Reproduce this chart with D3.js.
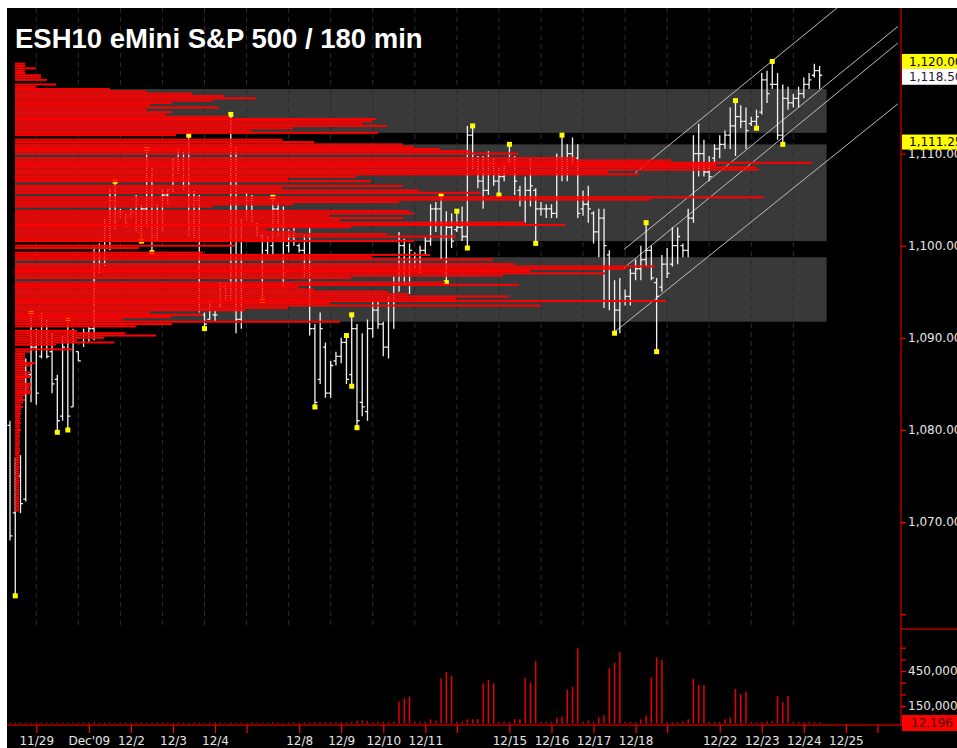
<!DOCTYPE html>
<html>
<head>
<meta charset="utf-8">
<script src="https://cdn.jsdelivr.net/npm/d3@7"></script>
<style>
	html, body { margin: 0; padding: 0; background: #fff; }
	svg { display: block; }
	text { font-family: 'DejaVu Sans', Verdana, sans-serif; }
</style>
</head>
<body>
<div id="chart"></div>
<script>

/****************************************
 *
 * Data
 *
 ****************************************/

// OHLC, one entry per 180 min bar (8 bars a day)
const highs = [
	1081.0, 1077.0, 1077.25, 1087.75, 1092.75, 1091.0, 1092.75, 1092.0, 1090.5, 1086.0,
	1090.25, 1092.0, 1091.0, 1088.5, 1091.0, 1091.25, 1100.0, 1100.25, 1103.0, 1106.25,
	1107.0, 1104.0, 1103.5, 1104.0, 1105.5, 1104.5, 1110.5, 1108.5, 1104.5, 1106.25,
	1106.25, 1109.5, 1110.5, 1110.25, 1112.0, 1106.0, 1105.5, 1092.75, 1094.0, 1093.0,
	1096.0, 1096.0, 1114.25, 1110.75, 1103.0, 1105.75, 1105.5, 1102.5, 1101.25, 1101.0,
	1105.25, 1104.75, 1104.25, 1101.75, 1102.0, 1100.25, 1101.25, 1102.0, 1091.5, 1092.75,
	1089.5, 1087.5, 1088.5, 1090.0, 1090.25, 1092.5, 1091.5, 1090.5, 1092.0, 1094.0,
	1094.0, 1091.75, 1094.5, 1096.75, 1101.5, 1100.75, 1100.25, 1099.25, 1100.0, 1101.0,
	1104.5, 1104.75, 1105.5, 1103.75, 1103.5, 1103.75, 1104.25, 1113.0, 1113.0, 1109.75,
	1109.75, 1110.25, 1109.5, 1108.5, 1108.75, 1111.0, 1109.75, 1106.5, 1107.5, 1109.5,
	1106.25, 1104.75, 1104.5, 1104.5, 1110.0, 1112.0, 1111.0, 1111.75, 1111.0, 1106.0,
	1106.5, 1103.75, 1104.0, 1104.0, 1099.5, 1096.25, 1096.5, 1095.25, 1097.5, 1098.5,
	1100.0, 1102.5, 1100.0, 1096.5, 1099.0, 1099.75, 1102.0, 1102.0, 1100.25, 1104.0,
	1112.0, 1113.25, 1111.5, 1109.75, 1111.0, 1112.0, 1112.5, 1115.0, 1115.75, 1115.25,
	1115.0, 1114.0, 1114.75, 1118.75, 1119.0, 1120.0, 1118.75, 1117.5, 1117.25, 1116.5,
	1117.25, 1118.25, 1118.75, 1119.75, 1119.5
]

const lows = [
	1068.0, 1062.0, 1071.0, 1072.25, 1083.0, 1082.75, 1087.75, 1087.75, 1084.0, 1079.75,
	1081.0, 1080.0, 1082.5, 1087.5, 1089.0, 1089.5, 1089.75, 1097.0, 1097.75, 1099.5,
	1101.75, 1103.0, 1102.0, 1103.0, 1101.5, 1100.5, 1102.0, 1099.25, 1100.5, 1101.5,
	1104.5, 1105.75, 1107.75, 1106.0, 1101.0, 1100.75, 1092.75, 1091.0, 1092.0, 1091.75,
	1093.25, 1094.0, 1094.0, 1090.5, 1091.0, 1102.75, 1102.5, 1101.0, 1094.0, 1099.0,
	1099.0, 1101.0, 1095.5, 1099.25, 1100.0, 1099.25, 1096.5, 1090.25, 1082.5, 1085.0,
	1083.5, 1083.5, 1087.0, 1087.25, 1085.0, 1084.75, 1080.25, 1081.5, 1081.0, 1090.0,
	1091.0, 1088.0, 1087.75, 1091.0, 1095.0, 1095.75, 1094.75, 1097.5, 1097.0, 1099.0,
	1100.0, 1101.5, 1098.5, 1096.0, 1099.75, 1101.5, 1100.5, 1099.75, 1108.25, 1106.25,
	1104.0, 1105.5, 1106.5, 1105.5, 1107.0, 1109.0, 1105.5, 1104.25, 1102.5, 1104.25,
	1100.25, 1103.25, 1103.0, 1103.0, 1103.0, 1107.0, 1107.0, 1108.75, 1103.0, 1103.25,
	1102.5, 1100.25, 1098.75, 1093.25, 1093.0, 1090.5, 1090.5, 1093.5, 1093.5, 1096.25,
	1096.25, 1097.75, 1096.25, 1088.5, 1095.0, 1096.5, 1097.75, 1098.0, 1098.75, 1098.75,
	1102.5, 1107.5, 1107.5, 1107.0, 1109.0, 1109.5, 1110.5, 1110.5, 1109.75, 1112.75,
	1110.5, 1113.0, 1112.75, 1114.25, 1115.5, 1117.0, 1111.5, 1111.0, 1114.75, 1115.0,
	1115.0, 1116.0, 1117.0, 1118.25, 1117.0
]

const opens = [
	1080.5, 1071.0, 1075.0, 1072.5, 1086.0, 1089.0, 1088.0, 1091.5, 1088.5, 1085.5,
	1081.5, 1090.0, 1082.5, 1088.5, 1089.5, 1090.5, 1091.0, 1099.0, 1098.0, 1102.0,
	1105.0, 1103.5, 1103.0, 1103.0, 1103.5, 1102.0, 1104.0, 1108.0, 1101.0, 1103.0,
	1105.5, 1106.0, 1109.0, 1108.0, 1107.0, 1102.0, 1105.0, 1092.5, 1092.0, 1092.5,
	1093.5, 1095.5, 1094.5, 1110.0, 1092.0, 1103.0, 1105.0, 1102.5, 1101.0, 1099.5,
	1100.0, 1104.0, 1102.0, 1100.0, 1101.0, 1100.0, 1099.5, 1101.0, 1091.0, 1085.5,
	1089.0, 1084.0, 1087.5, 1088.0, 1089.5, 1086.0, 1091.0, 1083.0, 1082.0, 1091.0,
	1093.0, 1091.5, 1089.0, 1094.0, 1096.0, 1100.0, 1096.0, 1098.0, 1098.5, 1099.5,
	1100.5, 1104.0, 1104.0, 1101.0, 1102.0, 1101.75, 1102.0, 1101.0, 1112.0, 1108.0,
	1107.0, 1106.0, 1109.0, 1107.0, 1107.5, 1109.25, 1109.5, 1106.0, 1105.0, 1106.0,
	1106.0, 1104.0, 1104.0, 1104.0, 1103.5, 1109.5, 1108.0, 1110.0, 1109.5, 1104.0,
	1104.5, 1103.5, 1101.5, 1103.0, 1099.0, 1094.0, 1093.0, 1094.0, 1094.5, 1097.0,
	1097.5, 1098.5, 1099.5, 1096.0, 1095.5, 1098.0, 1098.0, 1100.0, 1100.0, 1099.5,
	1103.0, 1110.0, 1110.0, 1108.0, 1109.5, 1110.5, 1111.0, 1112.0, 1113.0, 1114.0,
	1113.5, 1113.25, 1113.5, 1114.5, 1118.0, 1117.5, 1117.5, 1112.0, 1116.0, 1115.5,
	1116.0, 1116.5, 1117.5, 1118.5, 1119.0
]

const closes = [
	1068.5, 1075.0, 1072.0, 1086.0, 1089.0, 1084.0, 1092.0, 1088.0, 1085.0, 1081.0,
	1089.0, 1081.5, 1089.5, 1087.5, 1090.5, 1091.0, 1099.0, 1098.0, 1102.0, 1105.0,
	1103.0, 1103.5, 1102.5, 1103.5, 1102.0, 1104.0, 1109.0, 1101.0, 1103.0, 1105.5,
	1106.0, 1109.0, 1108.0, 1106.5, 1102.0, 1105.0, 1093.0, 1091.5, 1093.5, 1092.5,
	1095.5, 1094.5, 1111.0, 1092.0, 1102.0, 1105.0, 1103.0, 1101.5, 1095.0, 1100.5,
	1104.0, 1102.0, 1097.0, 1101.0, 1100.5, 1099.5, 1100.5, 1091.0, 1083.0, 1091.0,
	1084.0, 1087.0, 1088.0, 1089.5, 1085.5, 1091.0, 1081.0, 1082.5, 1091.0, 1093.0,
	1091.5, 1089.0, 1094.0, 1096.0, 1100.0, 1096.0, 1099.5, 1098.5, 1099.5, 1100.5,
	1104.0, 1104.0, 1101.0, 1102.0, 1100.5, 1102.0, 1101.0, 1112.0, 1110.0, 1107.0,
	1106.0, 1109.0, 1107.0, 1107.5, 1108.0, 1110.0, 1107.0, 1105.0, 1106.0, 1106.5,
	1104.0, 1104.0, 1104.0, 1103.5, 1109.5, 1108.0, 1110.0, 1109.5, 1103.5, 1104.5,
	1104.0, 1101.5, 1103.0, 1100.0, 1094.0, 1093.0, 1094.0, 1094.5, 1097.0, 1097.5,
	1098.5, 1099.5, 1096.5, 1094.5, 1098.0, 1097.0, 1100.0, 1101.0, 1099.5, 1103.0,
	1110.0, 1110.0, 1108.0, 1107.5, 1110.5, 1111.0, 1112.0, 1113.0, 1114.0, 1113.5,
	1112.5, 1113.5, 1114.0, 1118.0, 1116.5, 1117.5, 1112.0, 1116.0, 1115.5, 1116.0,
	1116.5, 1117.5, 1118.0, 1119.0, 1118.5
]

// contracts per bar
const volumes = [
	9000, 8000, 10000, 9000, 8000, 9000, 10000, 8000, 9000, 8000,
	10000, 9000, 8000, 9000, 10000, 8000, 9000, 10000, 9000, 8000,
	9000, 10000, 8000, 9000, 9000, 10000, 8000, 9000, 10000, 9000,
	8000, 9000, 10000, 9000, 8000, 10000, 9000, 8000, 9000, 10000,
	9000, 8000, 10000, 9000, 9000, 8000, 10000, 9000, 8000, 9000,
	10000, 9000, 8000, 9000, 10000, 9000, 11000, 10000, 12000, 10000,
	11000, 12000, 10000, 12000, 11000, 14000, 24000, 25000, 23000, 12000,
	13000, 15000, 15000, 16000, 187000, 216000, 230000, 14000, 15000, 14000,
	36000, 24000, 387000, 444000, 410000, 15000, 14000, 36000, 36000, 36000,
	345000, 373000, 345000, 15000, 14000, 15000, 36000, 36000, 387000, 353000,
	533000, 15000, 14000, 15000, 50000, 58000, 287000, 315000, 645000, 15000,
	26000, 15000, 50000, 70000, 473000, 521000, 610000, 12000, 12000, 12000,
	36000, 67000, 396000, 567000, 544000, 12000, 12000, 12000, 20000, 36000,
	384000, 330000, 330000, 12000, 12000, 12000, 36000, 50000, 296000, 250000,
	273000, 12000, 12000, 12000, 20000, 20000, 236000, 182000, 236000, 12000,
	12000, 12000, 12000, 12000, 12196
]

// swing high / low flags
const markerIdx = [1, 4, 9, 11, 11, 20, 25, 26, 27, 34, 37, 42, 48, 50, 58, 64, 65, 65, 66, 82, 83, 85, 87, 88, 93, 95, 100, 105, 115, 121, 123, 138, 142, 145, 147]
const markerSide = ['L', 'H', 'L', 'H', 'L', 'H', 'L', 'H', 'L', 'H', 'L', 'H', 'L', 'H', 'L', 'H', 'H', 'L', 'L', 'H', 'L', 'H', 'L', 'H', 'L', 'H', 'L', 'H', 'L', 'H', 'L', 'H', 'L', 'H', 'L']

// volume at price, [price, relative size]
const profile = [
	[1119.75, 10], [1119.5, 10], [1119.25, 21], [1119.0, 10], [1118.75, 10], [1118.5, 26], [1118.25, 26], [1118.0, 32], [1117.5, 41], [1117.25, 21],
	[1117.0, 95], [1116.75, 131], [1116.5, 177], [1116.25, 209], [1116.0, 241], [1115.75, 198], [1115.5, 157], [1115.25, 135], [1115.0, 204], [1114.75, 131],
	[1114.5, 157], [1114.25, 151], [1114.0, 214], [1113.75, 361], [1113.5, 357], [1113.25, 347], [1113.0, 372], [1112.75, 278], [1112.5, 236], [1112.25, 363],
	[1112.0, 161], [1111.5, 267], [1111.25, 299], [1111.0, 388], [1110.75, 399], [1110.5, 425], [1110.25, 455], [1110.0, 503], [1109.5, 561], [1109.25, 656],
	[1109.0, 797], [1108.75, 701], [1108.5, 741], [1108.25, 744], [1108.0, 593], [1107.75, 624], [1107.5, 341], [1107.25, 273], [1107.0, 356], [1106.5, 388],
	[1106.25, 267], [1106.0, 404], [1105.75, 466], [1105.25, 749], [1105.0, 635], [1104.75, 384], [1104.5, 278], [1104.25, 198], [1103.75, 394], [1103.5, 399],
	[1103.25, 315], [1103.0, 388], [1102.75, 325], [1102.5, 510], [1102.25, 550], [1102.0, 336], [1101.75, 251], [1101.5, 280], [1101.25, 372], [1101.0, 441],
	[1100.75, 273], [1100.5, 399], [1100.0, 220], [1099.75, 124], [1099.25, 188], [1099.0, 415], [1098.75, 357], [1098.5, 478], [1098.0, 499], [1097.75, 640],
	[1097.5, 611], [1097.25, 515], [1097.0, 590], [1096.75, 488], [1096.5, 336], [1096.0, 430], [1095.75, 504], [1095.5, 283], [1095.25, 299], [1095.0, 373],
	[1094.75, 393], [1094.5, 494], [1094.25, 441], [1094.0, 651], [1093.75, 315], [1093.5, 526], [1093.25, 273], [1093.0, 230], [1092.75, 135], [1092.5, 188],
	[1092.25, 156], [1092.0, 108], [1091.75, 325], [1091.5, 157], [1091.25, 121], [1090.75, 62], [1090.5, 110], [1090.25, 141], [1090.0, 89], [1089.75, 62],
	[1089.5, 99], [1089.25, 41], [1088.75, 57], [1088.5, 15], [1088.25, 10], [1088.0, 10], [1087.75, 10], [1087.5, 10], [1087.25, 20], [1087.0, 16],
	[1086.75, 10], [1086.5, 10], [1086.25, 16], [1086.0, 13], [1085.75, 16], [1085.5, 10], [1085.25, 10], [1085.0, 16], [1084.75, 16], [1084.5, 14],
	[1084.25, 16], [1084.0, 16], [1083.75, 10], [1083.5, 8], [1083.25, 10], [1083.0, 8], [1082.75, 6], [1082.5, 8], [1082.25, 6], [1082.0, 6],
	[1081.75, 6], [1081.5, 5], [1081.25, 6], [1081.0, 5], [1080.75, 6], [1080.5, 5], [1080.25, 5], [1080.0, 6], [1079.75, 5], [1079.5, 5],
	[1079.25, 5], [1079.0, 4], [1078.75, 5], [1078.5, 5], [1078.25, 4], [1078.0, 5], [1077.75, 5], [1077.5, 4], [1077.25, 5], [1077.0, 5],
	[1076.75, 4], [1076.5, 5], [1076.25, 4], [1076.0, 5], [1075.75, 4], [1075.5, 4], [1075.25, 5], [1075.0, 4], [1074.75, 4], [1074.5, 5],
	[1074.25, 4], [1074.0, 4], [1073.75, 4], [1073.5, 4], [1073.25, 4], [1073.0, 4], [1072.75, 4], [1072.5, 4], [1072.25, 4], [1072.0, 4],
	[1071.75, 4], [1071.5, 4], [1071.25, 4]
]

// shaded price zones
const zoneTop = [1117.0, 1111.0, 1098.75]
const zoneBottom = [1112.25, 1100.5, 1091.75]

// regression channel lines (bar index / price at both ends)
const channelStartIdx = [118.9, 116.8, 116.8, 114.7]
const channelStartPrice = [1107.9, 1099.6, 1097.6, 1090.5]
const channelEndIdx = [168.9, 168.9, 168.9, 168.9]
const channelEndPrice = [1131.2, 1123.8, 1122.0, 1115.4]

// date axis
const tickIdx = [5, 15, 23, 31, 39, 45, 55, 63, 71, 79, 85, 95, 103, 111, 119, 125, 135, 143, 151, 159, 165]
const tickLabels = ['11/29', 'Dec\'09', '12/2', '12/3', '12/4', '', '12/8', '12/9', '12/10', '12/11', '', '12/15', '12/16', '12/17', '12/18', '', '12/22', '12/23', '12/24', '12/25', '']

const priceTicks = [1060, 1070, 1080, 1090, 1100, 1110, 1120]
const volumeTicks = [150000, 250000, 350000, 450000, 550000, 650000]
const volumeLabels = [150000, 450000]

// price flags on the right scale
const flagValues = [1120.00, 1118.50, 1111.25]
const flagFills = ['#ffff00', '#ffffff', '#ffff00']

const title = 'ESH10 eMini S&P 500 / 180 min'

/****************************************
 *
 * Chart
 *
 ****************************************/

let chartWidth = 957
	, chartHeight = 748
	, panelLeft = 7
	, panelTop = 8
	, axisX = 901
	, priceBottom = 629
	, xAxisY = 725
	, red = '#ff0000'
	, x = d3.scaleLinear()
		.domain([0, 154])
		.range([10, 819.6])
	, y = d3.scaleLinear()
		.domain([1058.4, 1125.8])
		.range([priceBottom, panelTop])
	, yVol = d3.scaleLinear()
		.domain([0, 650000])
		.range([723.5, 647.7])
	, profX = d3.scaleLinear()
		.domain([0, 800])
		.range([15, 815])

const svg = d3.select('#chart')
	.append('svg')
	  .attr('width', chartWidth)
	  .attr('height', chartHeight)

svg.append('rect')
	.attr('x', panelLeft).attr('y', panelTop)
	.attr('width', chartWidth - panelLeft).attr('height', chartHeight - panelTop)
	.attr('fill', '#000')

svg.append('clipPath')
	.attr('id', 'priceClip')
	.append('rect')
	  .attr('x', panelLeft).attr('y', panelTop)
	  .attr('width', axisX - panelLeft).attr('height', priceBottom - panelTop)

const price = svg.append('g')
	.attr('clip-path', 'url(#priceClip)')

// shaded zones
price.append('g')
	.selectAll('rect')
	.data(zoneTop)
	.join('rect')
	  .attr('x', profX(0))
	  .attr('width', x(154) + 7 - profX(0))
	  .attr('y', d => y(d))
	  .attr('height', (d, i) => y(zoneBottom[i]) - y(d))
	  .attr('fill', '#393939')

// dashed day grid
price.append('g')
	.selectAll('line')
	.data(d3.range(5, 150, 8))
	.join('line')
	  .attr('x1', d => x(d)).attr('x2', d => x(d))
	  .attr('y1', panelTop).attr('y2', priceBottom)
	  .attr('stroke', '#2b2b2b')
	  .attr('stroke-dasharray', '5,4')

// channel
price.append('g')
	.selectAll('line')
	.data(channelStartIdx)
	.join('line')
	  .attr('x1', d => x(d))
	  .attr('y1', (d, i) => y(channelStartPrice[i]))
	  .attr('x2', (d, i) => x(channelEndIdx[i]))
	  .attr('y2', (d, i) => y(channelEndPrice[i]))
	  .attr('stroke', '#bdbdbd')
	  .attr('stroke-width', 1)

// OHLC bars
price.append('g')
	.selectAll('path')
	.data(highs)
	.join('path')
	  .attr('d', (d, i) => {
		const bx = x(i)
		return 'M' + bx + ',' + y(d) + 'V' + y(lows[i])
			+ 'M' + (bx - 2.5) + ',' + y(opens[i]) + 'H' + bx
			+ 'M' + bx + ',' + y(closes[i]) + 'H' + (bx + 2.5)
	  })
	  .attr('fill', 'none')
	  .attr('stroke', '#f2f2f2')
	  .attr('stroke-width', 1.3)

// swing flags
price.append('g')
	.selectAll('rect')
	.data(markerIdx)
	.join('rect')
	  .attr('x', d => x(d) - 2.5)
	  .attr('y', (d, i) => y(markerSide[i] === 'H' ? highs[d] : lows[d]) - 2.5)
	  .attr('width', 5).attr('height', 5)
	  .attr('fill', '#ffff00')

// volume profile, drawn over the bars
price.append('g')
	.selectAll('rect')
	.data(profile)
	.join('rect')
	  .attr('x', profX(0))
	  .attr('y', d => y(d[0]) - 1)
	  .attr('width', d => profX(d[1]) - profX(0))
	  .attr('height', 2)
	  .attr('fill', red)

// volume bars
svg.append('g')
	.selectAll('line')
	.data(volumes)
	.join('line')
	  .attr('x1', (d, i) => x(i)).attr('x2', (d, i) => x(i))
	  .attr('y1', yVol(0)).attr('y2', d => yVol(d))
	  .attr('stroke', '#e60000')
	  .attr('stroke-width', 1.5)

/****************************************
 *
 * Axes
 *
 ****************************************/

function styleAxis(g) {
	g.select('.domain').remove()
	g.selectAll('.tick line').attr('stroke', red).attr('stroke-width', 1.2)
	g.selectAll('.tick text')
		.attr('fill', '#e6e6e6')
		.style('font-family', '\'DejaVu Sans\', Verdana, sans-serif')
		.style('font-size', '12px')
}

svg.append('g')
	.attr('transform', 'translate(' + axisX + ',0)')
	.call(d3.axisRight(y)
		.tickValues(priceTicks)
		.tickSize(5)
		.tickPadding(2)
		.tickFormat(d => d === 1060 ? '' : d3.format(',.2f')(d)))
	.call(styleAxis)

svg.append('g')
	.attr('transform', 'translate(' + axisX + ',0)')
	.call(d3.axisRight(yVol)
		.tickValues(volumeTicks)
		.tickSize(5)
		.tickPadding(2)
		.tickFormat(d => volumeLabels.includes(d) ? d3.format(',')(d) : ''))
	.call(styleAxis)

svg.append('g')
	.attr('transform', 'translate(0,' + xAxisY + ')')
	.call(d3.axisBottom(x)
		.tickValues(tickIdx)
		.tickSize(8)
		.tickPadding(3)
		.tickFormat((d, i) => tickLabels[i]))
	.call(styleAxis)

// axis lines
svg.append('line')
	.attr('x1', axisX).attr('x2', axisX)
	.attr('y1', panelTop).attr('y2', xAxisY)
	.attr('stroke', red)
svg.append('line')
	.attr('x1', panelLeft).attr('x2', axisX + 4)
	.attr('y1', xAxisY).attr('y2', xAxisY)
	.attr('stroke', red)
svg.append('line')
	.attr('x1', axisX).attr('x2', chartWidth)
	.attr('y1', priceBottom).attr('y2', priceBottom)
	.attr('stroke', red)

// price flags
const flags = svg.append('g')
	.selectAll('g')
	.data(flagValues)
	.join('g')
	  .attr('transform', d => 'translate(' + (axisX + 1) + ',' + y(d) + ')')

flags.append('rect')
	.attr('x', 0).attr('y', (d, i) => i === 1 ? -6.5 : -7.5)
	.attr('width', chartWidth - axisX).attr('height', (d, i) => i === 1 ? 16 : 15)
	.attr('fill', (d, i) => flagFills[i])

flags.append('text')
	.attr('x', 7).attr('dy', (d, i) => i === 1 ? '0.5em' : '0.35em')
	.attr('fill', (d, i) => i === 1 ? '#1a1a3a' : '#000')
	.style('font-size', '12px')
	.text(d => d3.format(',.2f')(d))

// last volume
const lastVol = svg.append('g')
	.attr('transform', 'translate(' + (axisX + 1) + ',' + 723 + ')')

lastVol.append('rect')
	.attr('x', 0).attr('y', -8)
	.attr('width', chartWidth - axisX).attr('height', 16)
	.attr('fill', red)

lastVol.append('text')
	.attr('x', 9).attr('dy', '0.35em')
	.attr('fill', '#4a0000')
	.style('font-size', '12px')
	.text(d3.format(',')(volumes[volumes.length - 1]))

// title
svg.append('text')
	.attr('x', 15).attr('y', 48)
	.attr('fill', '#fff')
	.style('font-family', '\'Liberation Sans\', Arial, sans-serif')
	.style('font-weight', 'bold')
	.style('font-size', '27.5px')
	.text(title)

</script>
</body>
</html>
